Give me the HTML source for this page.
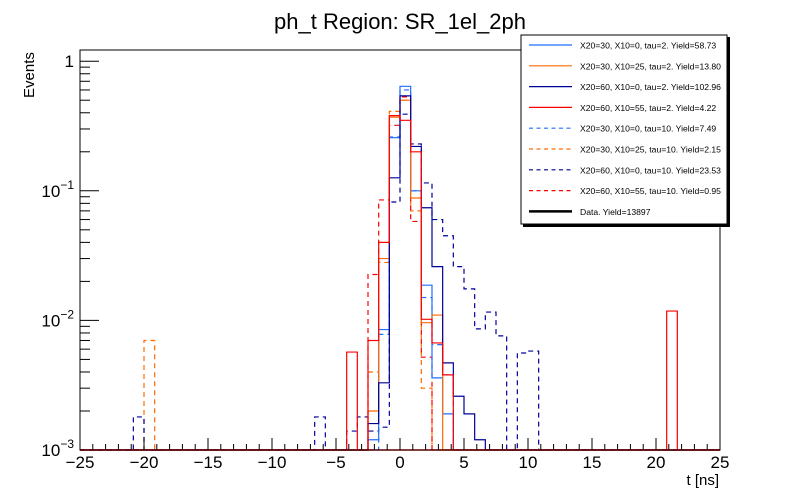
<!DOCTYPE html>
<html><head><meta charset="utf-8"><style>
html,body{margin:0;padding:0;background:#fff;}
svg{display:block;font-family:"Liberation Sans",Arial,sans-serif;}
</style></head><body>
<svg id="chart" width="800" height="500" viewBox="0 0 800 500">
<rect x="0" y="0" width="800" height="500" fill="#fff"/>
<text x="400" y="29" font-size="22" text-anchor="middle">ph_t Region: SR_1el_2ph</text>
<text x="34" y="98" font-size="15" transform="rotate(-90 34 98)">Events</text>
<text x="719" y="485" font-size="15" text-anchor="end">t [ns]</text>
<g id="marks"></g>
<g id="axes"></g>
<g id="legend"></g>
</svg>
<script>
const binEdgesMin = -25, binEdgesMax = 25, nBins = 60;
const xTicks = [-25,-20,-15,-10,-5,0,5,10,15,20,25];
const yTickExps = [0,-1,-2,-3];
const seriesNames = ["X20=30, X10=0, tau=2. Yield=58.73","X20=30, X10=25, tau=2. Yield=13.80","X20=60, X10=0, tau=2. Yield=102.96","X20=60, X10=55, tau=2. Yield=4.22","X20=30, X10=0, tau=10. Yield=7.49","X20=30, X10=25, tau=10. Yield=2.15","X20=60, X10=0, tau=10. Yield=23.53","X20=60, X10=55, tau=10. Yield=0.95"];
const seriesColors = ["#1f6fff","#ff6a00","#000099","#ff0000","#1f6fff","#ff6a00","#000099","#ff0000"];
const seriesDashed = [false,false,false,false,true,true,true,true];
const valsA = {27:0.0012,28:0.0085,29:0.257,30:0.64,31:0.1,32:0.0187,33:0.0036,34:0.0019};
const valsB = {27:0.002,28:0.03,29:0.37,30:0.5,31:0.088,32:0.0096,33:0.011};
const valsC = {27:0.0016,28:0.0033,29:0.126,30:0.54,31:0.22,32:0.074,33:0.026,34:0.0047,35:0.0026,36:0.0019,37:0.0012};
const valsD = {25:0.0057,27:0.007,28:0.04,29:0.38,30:0.35,31:0.2,32:0.0102,33:0.0067,34:0.0038,55:0.0118};
const valsE = {28:0.0078,29:0.26,30:0.6,31:0.1,32:0.015,33:0.0065,34:0.0038};
const valsF = {6:0.007,27:0.004,28:0.028,29:0.41,30:0.5,31:0.07,32:0.003};
const valsG = {5:0.0018,22:0.0018,25:0.0014,26:0.0018,27:0.0014,28:0.0015,29:0.082,30:0.39,31:0.23,32:0.115,33:0.06,34:0.045,35:0.026,36:0.0175,37:0.0086,38:0.0116,39:0.0076,41:0.0056,42:0.0058};
const valsH = {27:0.0226,28:0.085,29:0.32,30:0.53,31:0.058,32:0.0052};
const allVals = [valsA,valsB,valsC,valsD,valsE,valsF,valsG,valsH];

const L=80,R=720,T=50,B=450, yMinExp=-3, pxPerDec=129.6;
const NS="http://www.w3.org/2000/svg";
function xs(t){return L+(t-binEdgesMin)/(binEdgesMax-binEdgesMin)*(R-L);}
function ys(v){if(v<=0.001)return B;let y=B-(Math.log10(v)-yMinExp)*pxPerDec;return Math.max(T,y);}
function mk(tag,attrs,parent){const e=document.createElementNS(NS,tag);for(const k in attrs)e.setAttribute(k,attrs[k]);parent.appendChild(e);return e;}
const marks=document.getElementById('marks'), axes=document.getElementById('axes'), legend=document.getElementById('legend');
const bw=(binEdgesMax-binEdgesMin)/nBins;
const order=[4,5,6,7,0,1,2,3];
order.forEach(s=>{
  const v=allVals[s];
  let d="M"+L+","+ys(v[0]||0);
  for(let i=0;i<nBins;i++){
    const y=ys(v[i]||0);
    d+=" L"+xs(binEdgesMin+i*bw).toFixed(2)+","+y.toFixed(2)+" L"+xs(binEdgesMin+(i+1)*bw).toFixed(2)+","+y.toFixed(2);
  }
  const p=mk('path',{d:d,fill:'none',stroke:seriesColors[s],'stroke-width':1.2,'stroke-dasharray':seriesDashed[s]?'5,4':'none'},marks);
  
  
});
const bl=mk('line',{x1:L,y1:B,x2:R,y2:B,stroke:'#ff0000','stroke-width':1.5},marks);


const fr=mk('rect',{x:L,y:T,width:R-L,height:B-T,fill:'none',stroke:'#000','stroke-width':1},axes);


for(let t=binEdgesMin;t<=binEdgesMax;t++){
  const maj=(t%5===0);
  const tk=mk('line',{x1:xs(t),y1:B,x2:xs(t),y2:B-(maj?12:6),stroke:'#000','stroke-width':1},axes);
  
  
}
xTicks.forEach(t=>{
  const tx=mk('text',{x:xs(t),y:B+18,'font-size':17,'text-anchor':'middle'},axes);
  tx.textContent=(t<0?"\u2212"+(-t):String(t));
  
  
});
for(let e=-3;e<=0;e++){
  for(let m=1;m<=9;m++){
    const v=m*Math.pow(10,e);
    if(e===0&&m>1)break;
    const y=ys(v);
    const tk=mk('line',{x1:L,y1:y,x2:L+(m===1?19:10),y2:y,stroke:'#000','stroke-width':1},axes);
    
    
  }
}
yTickExps.forEach(e=>{
  const y=B-(e-yMinExp)*pxPerDec;
  const g=mk('text',{x:L-6,y:y+6,'font-size':17,'text-anchor':'end'},axes);
  
  
  if(e===0){g.textContent="1";}
  else{
    const b=mk('tspan',{},g);b.textContent="10";
    const sp=mk('tspan',{dy:-8,'font-size':12},g);sp.textContent="\u2212"+(-e);
  }
});
const lb=mk('rect',{x:523,y:37,width:207,height:190,fill:'#000'},legend);


const lr=mk('rect',{x:521,y:35,width:206,height:189,fill:'#fff',stroke:'#000','stroke-width':1},legend);


const legNames=seriesNames.concat(["Data. Yield=13897"]);
legNames.forEach((n,i)=>{
  const y=45+i*20.8;
  const ln=mk('line',{x1:529,y1:y,x2:572,y2:y,stroke:i<8?seriesColors[i]:'#000','stroke-width':i<8?1.2:2.5,'stroke-dasharray':(i<8&&seriesDashed[i])?'4,3.5':'none'},legend);
  
  
  const tx=mk('text',{x:580,y:y+3.5,'font-size':8.6},legend);
  tx.textContent=n;
  
  
});
</script>
</body></html>
